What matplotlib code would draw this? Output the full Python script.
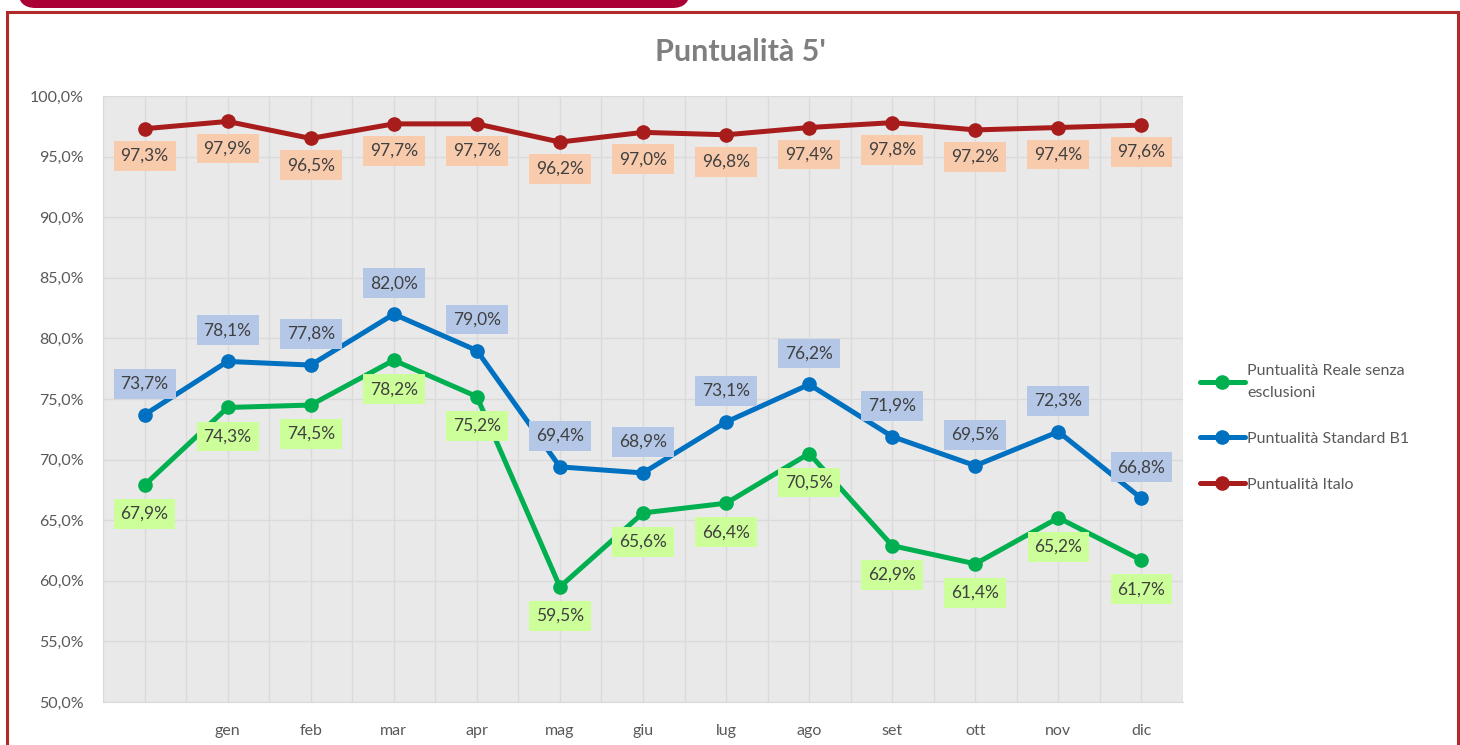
import matplotlib
matplotlib.use("Agg")
import matplotlib.pyplot as plt
from matplotlib.patches import Rectangle, FancyBboxPatch
from matplotlib.ticker import MultipleLocator, FuncFormatter

plt.rcParams['font.family'] = ['Lato', 'DejaVu Sans']

months = ["", "gen", "feb", "mar", "apr", "mag", "giu", "lug", "ago", "set", "ott", "nov", "dic"]
reale = [67.9, 74.3, 74.5, 78.2, 75.2, 59.5, 65.6, 66.4, 70.5, 62.9, 61.4, 65.2, 61.7]
standard = [73.7, 78.1, 77.8, 82.0, 79.0, 69.4, 68.9, 73.1, 76.2, 71.9, 69.5, 72.3, 66.8]
italo = [97.3, 97.9, 96.5, 97.7, 97.7, 96.2, 97.0, 96.8, 97.4, 97.8, 97.2, 97.4, 97.6]

W, H = 1460, 745
fig = plt.figure(figsize=(W / 100, H / 100), dpi=100)
fig.patch.set_facecolor("white")

# frame and tab
fig.add_artist(Rectangle((7 / W, -0.01), (1458 - 7) / W, (745 - 12) / H + 0.01,
                         transform=fig.transFigure, fill=False,
                         edgecolor="#B02A2A", linewidth=2.2))
fig.add_artist(FancyBboxPatch((18 / W, (745 - 8) / H), (690 - 18) / W, 30 / H,
                              boxstyle="round,pad=0,rounding_size=0.012",
                              transform=fig.transFigure, facecolor="#AA0033",
                              edgecolor="none", mutation_aspect=2))

ax = fig.add_axes([103 / W, (745 - 702) / H, (1183 - 103) / W, (702 - 96) / H])
ax.set_facecolor("#E9E9E9")
x = list(range(len(months)))
ax.set_xlim(-0.5, len(months) - 0.5)
ax.set_ylim(50, 100)
ax.yaxis.set_major_locator(MultipleLocator(5))
ax.yaxis.set_major_formatter(FuncFormatter(lambda v, p: f"{v:.1f}%".replace(".", ",")))
ax.set_xticks(x)
ax.set_xticklabels(months)
ax.set_xticks([i - 0.5 for i in range(len(months) + 1)], minor=True)
ax.grid(True, which="major", color="#DADADA", linewidth=1)
ax.grid(True, which="minor", axis="x", color="#DADADA", linewidth=1)
ax.set_axisbelow(True)
for s in ["top", "right", "left"]:
    ax.spines[s].set_visible(False)
ax.spines["bottom"].set_color("#D9D9D9")
ax.tick_params(which="both", length=0, labelsize=11.5, colors="#595959")
ax.tick_params(axis="y", pad=14)
ax.tick_params(axis="x", pad=16)

series = [
    ("Puntualità Reale senza\nesclusioni", reale, "#00B050", "#CCFF99", -29),
    ("Puntualità Standard B1", standard, "#0070C0", "#B4C7E7", 31),
    ("Puntualità Italo", italo, "#A81C1C", "#F8CBAD", -27),
]
for name, vals, col, bg, off in series:
    ax.plot(x, vals, color=col, linewidth=3.6, marker="o", markersize=9.5,
            label=name, solid_capstyle="round")
    for xi, v in zip(x, vals):
        ax.annotate(f"{v:.1f}%".replace(".", ","), (xi, v), xytext=(0, off),
                    textcoords="offset pixels", ha="center", va="center",
                    fontsize=12.5, color="#404040",
                    bbox=dict(boxstyle="square,pad=0.4", facecolor=bg, edgecolor="none"))

fig.text(740 / W, 1 - 52 / H, "Puntualità 5'", ha="center", va="center",
         fontsize=22, color="#7F7F7F", fontweight="bold")

leg = ax.legend(loc="upper left", bbox_to_anchor=(1200 / W, 1 - 364 / H),
                bbox_transform=fig.transFigure, frameon=False, fontsize=11.5,
                handlelength=2.8, handletextpad=0.15, labelspacing=2.0,
                borderaxespad=0, borderpad=0)
for t in leg.get_texts():
    t.set_color("#595959")
    t.set_linespacing(1.7)

fig.savefig("out.png", dpi=100)
